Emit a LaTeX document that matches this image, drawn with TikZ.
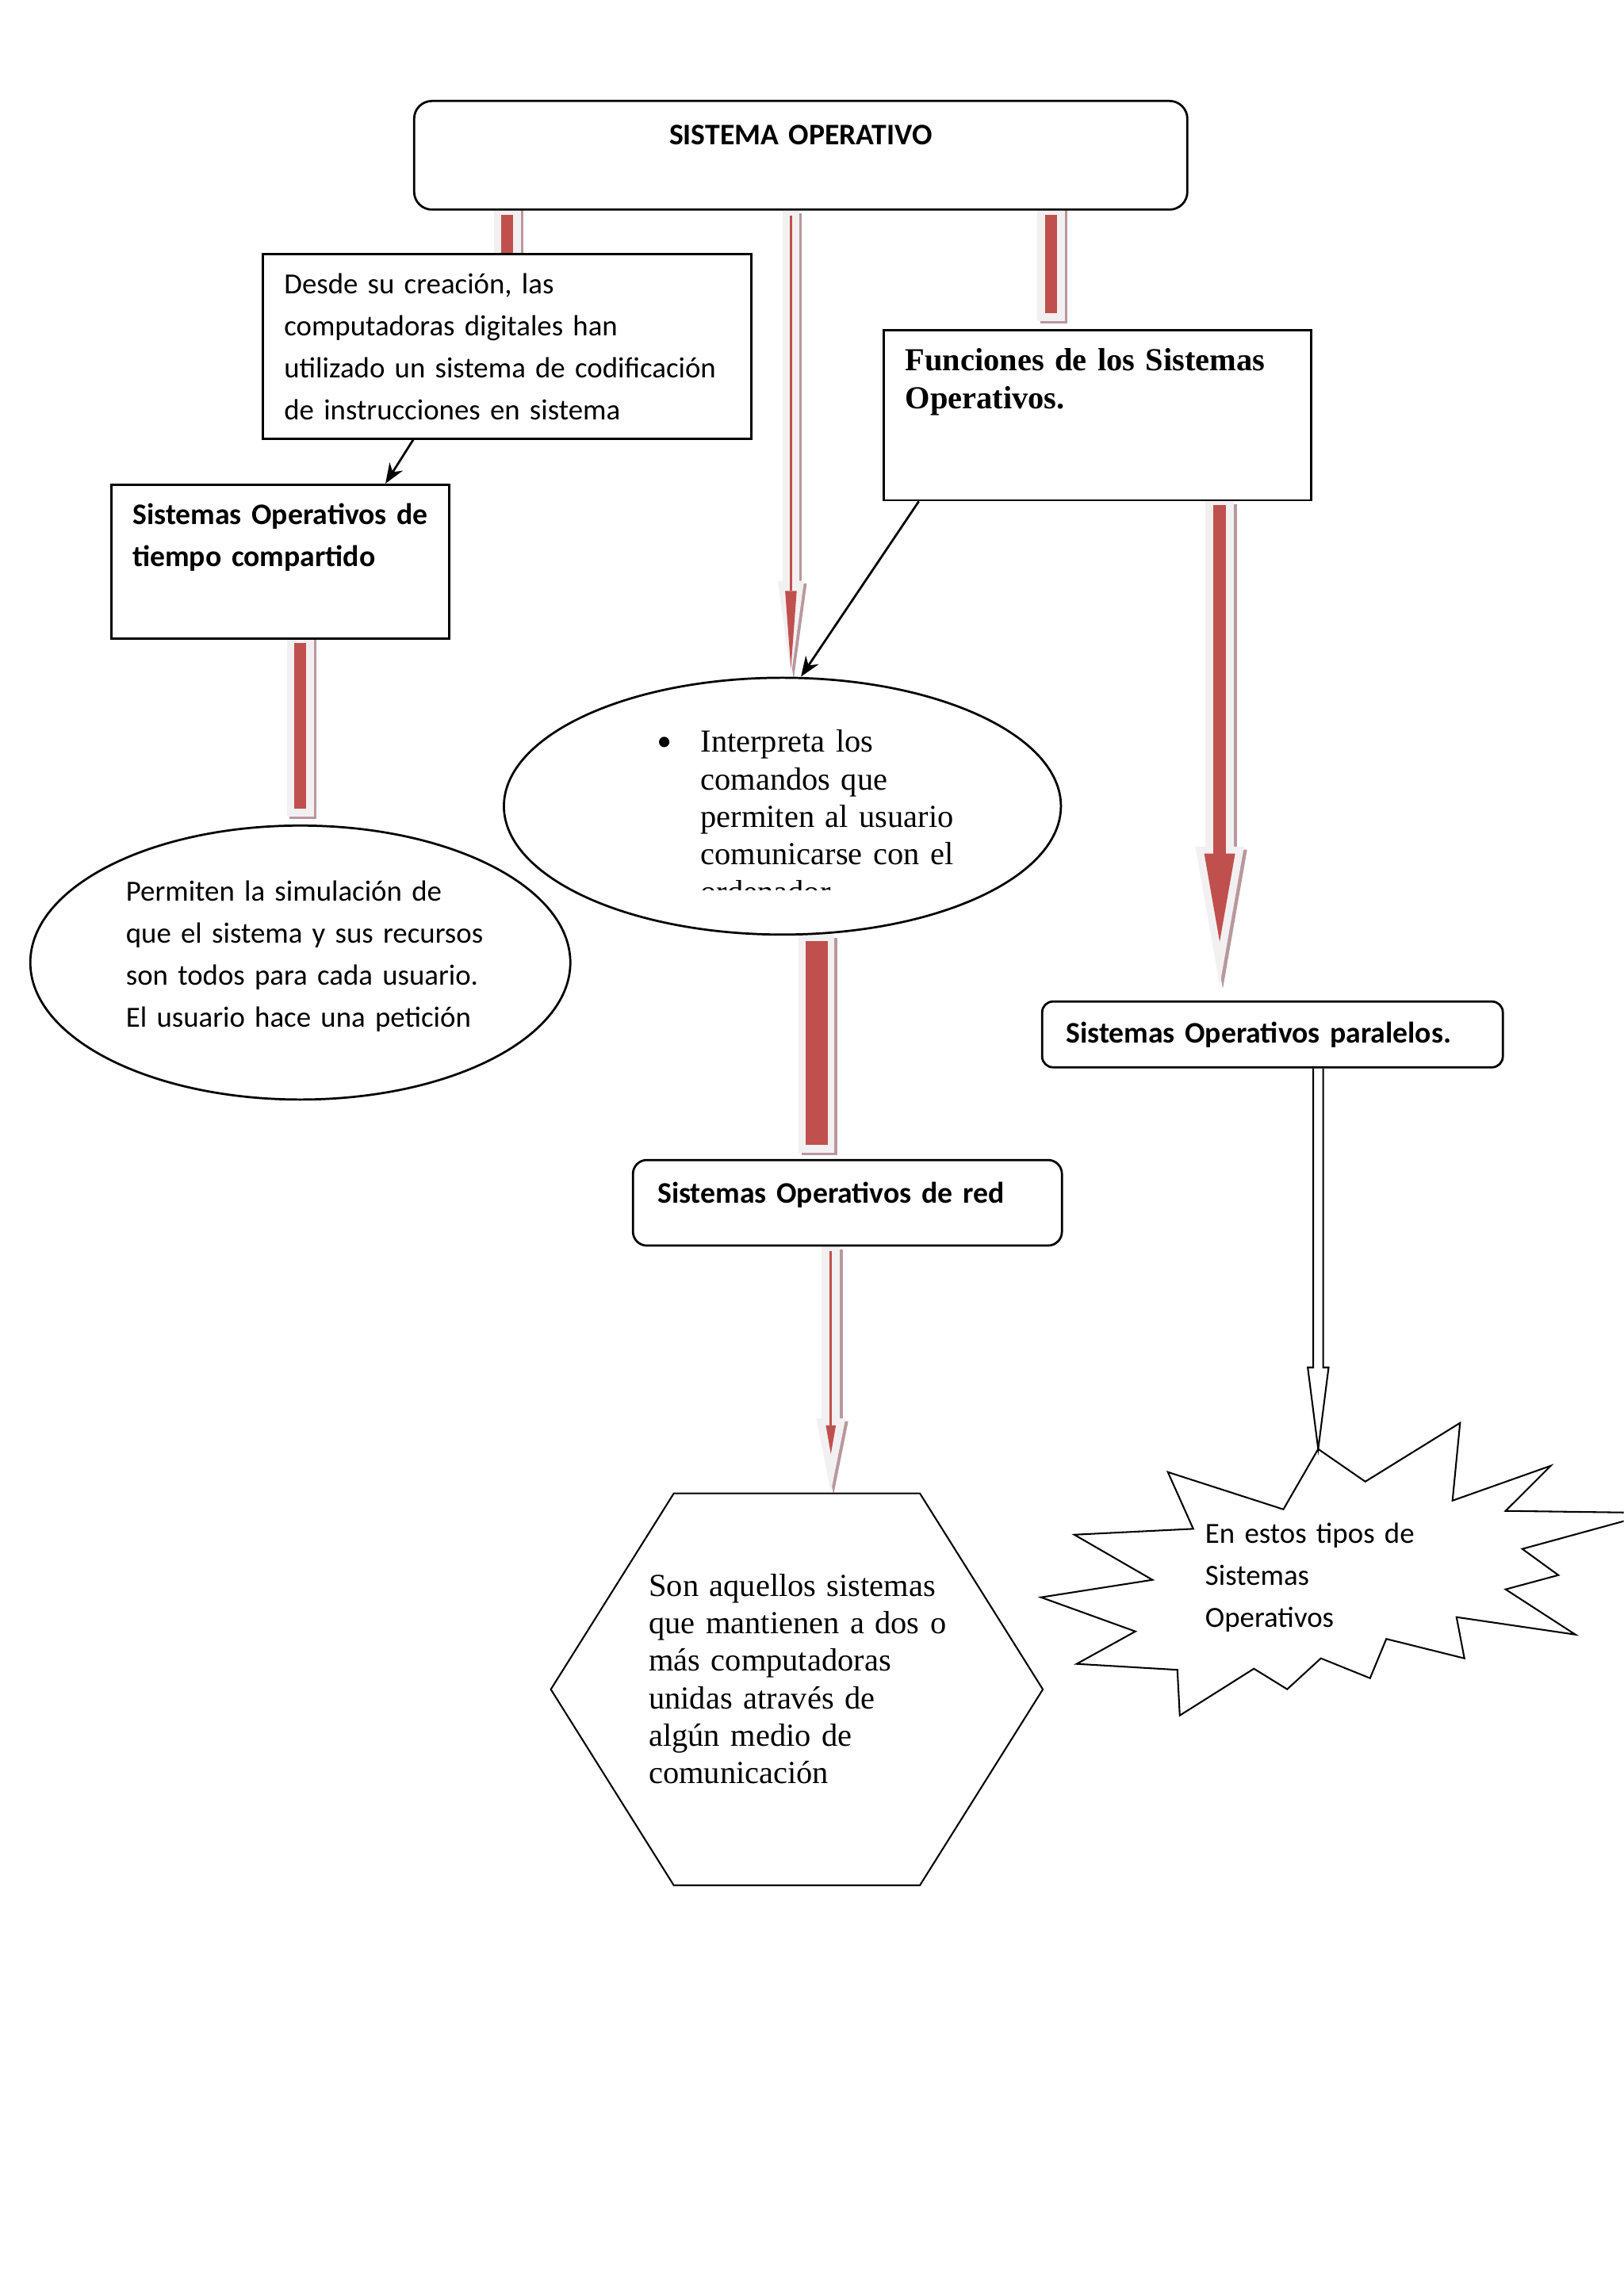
\documentclass[tikz,border=0pt]{standalone}
\usepackage{fontspec}
\setmainfont{Liberation Serif}
\newfontfamily\calibri{Carlito}
\usetikzlibrary{arrows.meta,shapes.geometric}
\pgfdeclarelayer{background}
\pgfsetlayers{background,main}
\definecolor{sored}{HTML}{C0504D}
\definecolor{soglow}{HTML}{F3F0F2}
\definecolor{soshade}{HTML}{B8989D}
\newcommand{\calfont}{\calibri\fontsize{10.75}{15.5}\selectfont}
\newcommand{\calbold}{\calibri\bfseries\fontsize{11}{15.5}\selectfont}
\newcommand{\romfont}{\fontsize{11.8}{13.8}\selectfont}
\tikzstyle{roundbox} = [rectangle, draw=black, thick, fill=white, anchor=north west, inner ysep=0pt, align=left, font=\calbold]
\tikzstyle{squarebox} = [rectangle, draw=black, thick, fill=white, anchor=north west, inner ysep=0pt, align=left]
\tikzstyle{bubble} = [ellipse, draw=black, thick, fill=white, inner sep=0pt]
\tikzstyle{blurb} = [anchor=base west, inner sep=0pt, align=left]
\tikzstyle{outline} = [draw=black, semithick, line join=miter]
\tikzstyle{arrow} = [thick,->,>={Stealth[length=0.26cm,width=0.2cm]}]
\tikzstyle{hollowarrow} = [draw=black, semithick, fill=white, line join=miter]
\tikzstyle{redbar} = [draw=sored, line width=0.15cm, shorten <=0.05cm, shorten >=0.2cm,
  preaction={draw=soshade, line width=0.35cm, line cap=rect, shorten <=0.12cm, shorten >=0.28cm, transform canvas={xshift=0.035cm, yshift=-0.035cm}},
  preaction={draw=soglow, line width=0.35cm, line cap=rect, shorten <=0.12cm, shorten >=0.28cm}]
\tikzstyle{widebar} = [draw=sored, line width=0.29cm, shorten <=0.07cm, shorten >=0.18cm,
  preaction={draw=soshade, line width=0.46cm, line cap=rect, shorten <=0.22cm, shorten >=0.31cm, transform canvas={xshift=0.035cm, yshift=-0.035cm}},
  preaction={draw=soglow, line width=0.46cm, line cap=rect, shorten <=0.22cm, shorten >=0.31cm}]
\tikzstyle{longredarrow} = [draw=sored, line width=0.03cm, -{Triangle[width=0.15cm,length=1cm,line width=0pt]}, shorten <=0.06cm, shorten >=0.11cm,
  preaction={draw=soshade, line width=0.215cm, -{Triangle[width=0.34cm,length=1.24cm,line width=0pt]}, shorten <=0cm, shorten >=0cm, transform canvas={xshift=0.035cm, yshift=-0.035cm}},
  preaction={draw=soglow, line width=0.215cm, -{Triangle[width=0.34cm,length=1.24cm,line width=0pt]}, shorten <=0cm, shorten >=0cm}]
\tikzstyle{fatredarrow} = [draw=sored, line width=0.16cm, -{Triangle[width=0.4cm,length=1.14cm,line width=0pt]}, shorten <=0.05cm, shorten >=0.76cm,
  preaction={draw=soshade, line width=0.37cm, -{Triangle[width=0.63cm,length=1.8cm,line width=0pt]}, shorten <=0cm, shorten >=0.19cm, transform canvas={xshift=0.04cm, yshift=-0.04cm}},
  preaction={draw=soglow, line width=0.37cm, -{Triangle[width=0.63cm,length=1.8cm,line width=0pt]}, shorten <=0cm, shorten >=0.19cm}]
\tikzstyle{shortredarrow} = [draw=sored, line width=0.03cm, -{Triangle[width=0.13cm,length=0.37cm,line width=0pt]}, shorten <=0.06cm, shorten >=0.51cm,
  preaction={draw=soshade, line width=0.236cm, -{Triangle[width=0.38cm,length=0.95cm,line width=0pt]}, shorten <=0cm, shorten >=0.02cm, transform canvas={xshift=0.035cm, yshift=-0.035cm}},
  preaction={draw=soglow, line width=0.236cm, -{Triangle[width=0.38cm,length=0.95cm,line width=0pt]}, shorten <=0cm, shorten >=0.02cm}]

\begin{document}
\begin{tikzpicture}

\useasboundingbox (0,0) rectangle (21,-29.7);
\clip (0,0) rectangle (21,-29.7);

\node (top) [roundbox, rounded corners=0.23cm, align=center, text width=10cm, inner xsep=0pt, text height=0.564cm, text depth=0.841cm] at (5.342,-1.292) {SISTEMA OPERATIVO};

\node (desc) [squarebox, font=\calfont, text width=5.768cm, inner xsep=0.277cm, text height=0.511cm, text depth=1.873cm] at (3.384,-3.276) {Desde su creación, las\\computadoras digitales han\\utilizado un sistema de codificación\\de instrucciones en sistema};

\node (tiem) [squarebox, font=\calbold, text width=3.819cm, inner xsep=0.277cm, text height=0.513cm, text depth=1.476cm] at (1.425,-6.255) {Sistemas Operativos de\\tiempo compartido};

\node (func) [squarebox, font=\romfont\bfseries, text width=4.965cm, inner xsep=0.281cm, text height=0.529cm, text depth=1.673cm] at (11.413,-4.255) {Funciones de los Sistemas\\Operativos.};

\node (inter) [bubble, minimum width=7.204cm, minimum height=3.322cm] at (10.119,-10.428) {};
\begin{scope}
\clip (7,-9) rectangle (13.5,-11.515);
\node (intertext) [blurb, font=\romfont, text width=4cm] at (9.054,-9.731) {\llap{{\fontsize{16}{16}\selectfont\raisebox{-1.5pt}{\textbullet}}\hspace{10.4pt}}Interpreta los\\comandos que\\permiten al usuario\\comunicarse con el\\ordenador};
\end{scope}

\node (perm) [bubble, minimum width=6.984cm, minimum height=3.544cm] at (3.884,-12.451) {};
\node (permtext) [blurb, font=\calfont, text width=5cm] at (1.622,-11.656) {Permiten la simulación de\\que el sistema y sus recursos\\son todos para cada usuario.\\El usuario hace una petición};

\node (para) [roundbox, rounded corners=0.14cm, text width=5.342cm, inner xsep=0.308cm, text height=0.533cm, text depth=0.318cm] at (13.464,-12.941) {Sistemas Operativos paralelos.};

\node (net) [roundbox, rounded corners=0.18cm, text width=4.912cm, inner xsep=0.318cm, text height=0.554cm, text depth=0.553cm] at (8.172,-14.991) {Sistemas Operativos de red};

\node (hex) [anchor=north west, font=\romfont, align=left, text width=3.827cm, inner xsep=1.261cm, inner ysep=0pt, text height=1.323cm, text depth=3.732cm] at (7.124,-19.318) {Son aquellos sistemas\\que~mantienen~a~dos~o\\más computadoras\\unidas através de\\algún medio de\\comunicación};
\draw [outline] (hex.west) -- ([xshift=1.59cm]hex.north west) -- ([xshift=-1.59cm]hex.north east) -- (hex.east) -- ([xshift=-1.59cm]hex.south east) -- ([xshift=1.59cm]hex.south west) -- cycle;

\draw [outline] (17.048,-18.744) coordinate (bursttop) -- (17.657,-19.165) -- (18.883,-18.406) -- (18.785,-19.411) -- (20.057,-18.960) -- (19.472,-19.544) -- (21.390,-19.570) -- (19.688,-20.036) -- (20.154,-20.375) -- (19.472,-20.559) -- (20.375,-21.144) -- (18.837,-20.918) -- (18.939,-21.451) -- (17.929,-21.200) -- (17.719,-21.708) -- (17.083,-21.451) -- (16.647,-21.851) -- (16.217,-21.585) -- (15.258,-22.190) -- (15.227,-21.600) -- (13.925,-21.523) -- (14.684,-21.103) -- (13.464,-20.662) -- (14.905,-20.436) -- (13.894,-19.852) -- (15.432,-19.776) -- (15.104,-19.042) -- (16.598,-19.524) -- cycle;
\node (burst) [blurb, font=\calfont, text width=3.5cm] at (15.581,-19.964) {En estos tipos de\\Sistemas\\Operativos};

\begin{pgfonlayer}{background}
\fill [white] (0,0) rectangle (21,-29.7);
\draw [redbar] (desc.north |- top.south) -- ([yshift=-0.3cm]desc.north);
\coordinate (fa) at ([xshift=2.18cm]func.north west);
\draw [redbar] (fa |- top.south) -- (fa);
\draw [redbar] (perm.north |- tiem.south) -- (perm.north);
\coordinate (na) at ([xshift=2.39cm]net.north west);
\draw [widebar] (na |- inter.south) -- (na);
\coordinate (ia) at ([xshift=0.11cm]inter.north);
\draw [longredarrow] (ia |- top.south) -- (ia);
\coordinate (pa) at ([xshift=2.31cm]para.north west);
\draw [fatredarrow] (pa |- func.south) -- (pa);
\coordinate (ha) at ([xshift=0.44cm]hex.north);
\draw [shortredarrow] (ha |- net.south) -- (ha);
\draw [arrow] ([xshift=1.96cm]desc.south west) -- ([xshift=3.56cm]tiem.north west);
\draw [arrow] ([xshift=0.47cm]func.south west) -- ([xshift=0.24cm]inter.north);
\coordinate (hb) at (bursttop |- para.south);
\draw [hollowarrow] ([xshift=-0.064cm]hb) -- ([xshift=-0.064cm,yshift=1.056cm]bursttop) -- ([xshift=-0.135cm,yshift=1.056cm]bursttop) -- (bursttop) -- ([xshift=0.135cm,yshift=1.056cm]bursttop) -- ([xshift=0.064cm,yshift=1.056cm]bursttop) -- ([xshift=0.064cm]hb);
\end{pgfonlayer}

\end{tikzpicture}
\end{document}
